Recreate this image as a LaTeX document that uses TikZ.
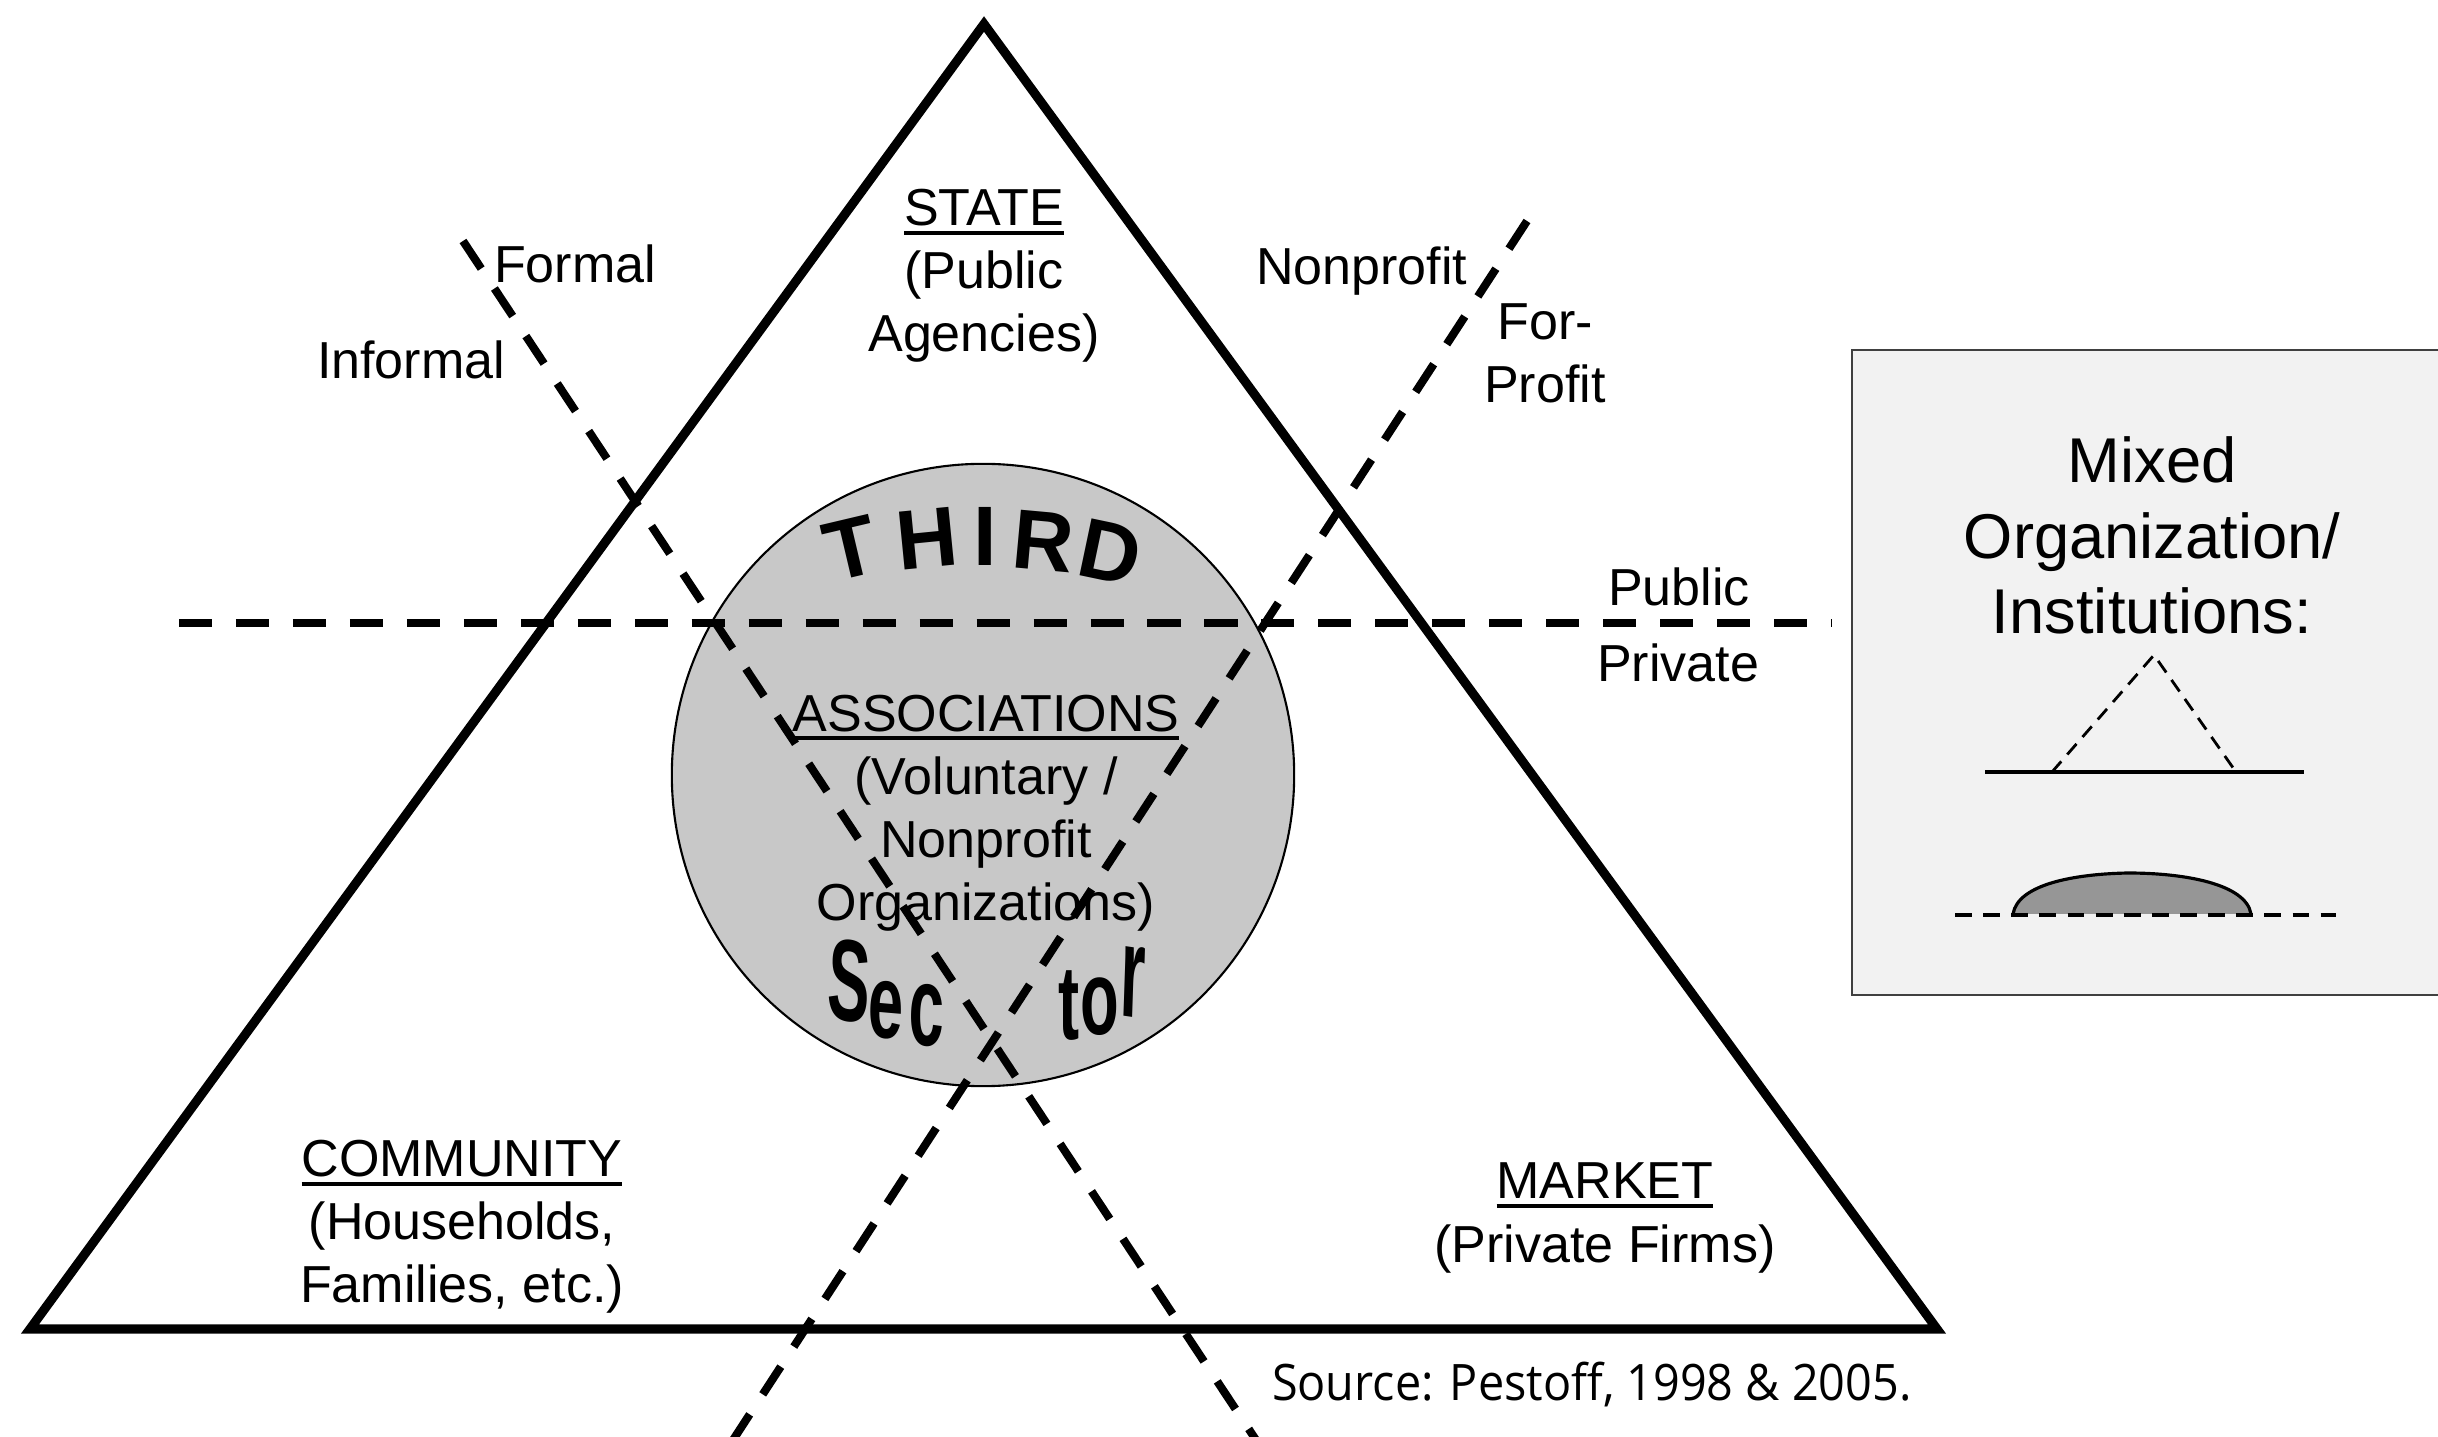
\documentclass[tikz,border=0pt]{standalone}
\usepackage{fontspec}
\setmainfont{Liberation Sans}
\newfontfamily\srcfont{Open Sans}[FakeStretch=0.93]
% underline drawn as a rule a little below the baseline
\newcommand\ulword[1]{\setbox0\hbox{#1}\rlap{\rule[-2.6pt]{\wd0}{1.1pt}}\box0}
\definecolor{discfill}{HTML}{C8C8C8}
\definecolor{boxfill}{HTML}{F2F2F2}
\definecolor{boxline}{HTML}{404040}
\definecolor{lensfill}{HTML}{969696}
\tikzset{
  every node/.style={inner sep=0pt, outer sep=0pt},
  lbl/.style={font=\fontsize{14.8pt}{18pt}\selectfont, align=center, anchor=base},
  bigedge/.style={line width=2.6pt, line join=miter},
  divider/.style={line width=2.3pt, dash pattern=on 9.4pt off 6.8pt},
  archtop/.style={font=\fontsize{24pt}{24pt}\selectfont\bfseries, anchor=center},
  archbot/.style={font=\fontsize{30pt}{30pt}\selectfont\bfseries, anchor=base, xscale=0.6},
  legendash/.style={line width=0.8pt, dash pattern=on 4pt off 2.6pt},
}
\begin{document}
\begin{tikzpicture}[x=0.01cm, y=-0.01cm]
\useasboundingbox (0,0) rectangle (2438,1437);
\fill[white] (0,0) rectangle (2438,1437);

% main triangle
\coordinate (apex) at (984,24);
\coordinate (bl) at (30,1329);
\coordinate (br) at (1937,1329);
\draw[bigedge] (apex) -- (bl) -- (br) -- cycle;

% third sector disc
\node[circle, draw, line width=0.6pt, fill=discfill, minimum size=6.22cm] (disc) at (983,775) {};

% sector labels (anchored at the baseline of their last line)
\node[lbl] (state) at (984,352) {\ulword{STATE}\\(Public\\Agencies)};
\node[lbl] (assoc) at (986,921) {\ulword{ASSOCIATIONS}\\(Voluntary /\\Nonprofit\\Organizations)};
\node[lbl] (community) at (462,1303) {\ulword{COMMUNITY}\\(Households,\\Families, etc.)};
\node[lbl] (market) at (1605,1262) {\ulword{MARKET}\\(Private Firms)};

% arched word on top of the disc
\node[archtop, rotate=13.3] (t1) at (851,548) {T};
\node[archtop, rotate=5.6] (t2) at (927,539) {H};
\node[archtop] (t3) at (985,536) {I};
\node[archtop, rotate=-5.2] (t4) at (1043,541) {R};
\node[archtop, rotate=-11.9] (t5) at (1110,552) {D};

% arched word at the bottom of the disc
\node[archbot, yscale=1.1, rotate=-5] (s1) at (848,1021) {S};
\node[archbot, rotate=-3] (s2) at (885,1038) {e};
\node[archbot, yscale=1.08, rotate=-2] (s3) at (926,1046) {c};
\node[archbot] (s4) at (1069,1040) {t};
\node[archbot] (s5) at (1100,1035) {o};
\node[archbot, yscale=1.25, rotate=-4] (s6) at (1132,1017) {r};

% dividing lines
\coordinate (f1) at (463,241);
\coordinate (f2) at (1256,1440);
\coordinate (p1) at (1527,221);
\coordinate (p2) at (733,1440);
\coordinate (h1) at (179,623);
\coordinate (h2) at (1832,623);
\draw[divider] (h1) -- (h2);
\draw[divider] (f1) -- (f2);
\draw[divider] (p1) -- (p2);

% line labels
\node[lbl, anchor=base west] (formal) at (494,283) {Formal};
\node[lbl, anchor=base west] (informal) at (317,379) {Informal};
\node[lbl, anchor=base west] (nonprofit) at (1256,285) {Nonprofit};
\node[lbl] (forprofit) at (1545,403) {For-\\Profit};
\node[lbl] (public) at (1679,606) {Public};
\node[lbl] (private) at (1678,682) {Private};

% legend box
\draw[boxline, line width=0.6pt, fill=boxfill] (1852,350) rectangle (2446,995);
\node[lbl, font=\fontsize{18pt}{21.5pt}\selectfont] (mixed) at (2152,634) {Mixed\\Organization/\\Institutions:};

% legend: dashed triangle on a solid line
\coordinate (la) at (2154,655);
\coordinate (lb) at (2052,772);
\coordinate (lc) at (2236,772);
\coordinate (ls1) at (1985,772);
\coordinate (ls2) at (2304,772);
\draw[legendash] (lb) -- (la) -- (lc);
\draw[line width=1pt] (ls1) -- (ls2);

% legend: shaded lens on a dashed line
\coordinate (ll) at (2013,914);
\coordinate (lr) at (2251,914);
\fill[lensfill] (ll) .. controls (2018,884) and (2075,874) .. (2128,873)
   .. controls (2185,873) and (2246,884) .. (lr) -- cycle;
\draw[line width=0.9pt] (ll) .. controls (2018,884) and (2075,874) .. (2128,873)
   .. controls (2185,873) and (2246,884) .. (lr);
\coordinate (ld1) at (1955,915);
\coordinate (ld2) at (2336,915);
\draw[line width=1.1pt, dash pattern=on 4.8pt off 3.2pt] (ld1) -- (ld2);

% source line
\node[anchor=base west, font=\srcfont\fontsize{14.3pt}{17pt}\selectfont] (source) at (1272,1400) {Source: Pestoff, 1998 \& 2005.};
\end{tikzpicture}
\end{document}
